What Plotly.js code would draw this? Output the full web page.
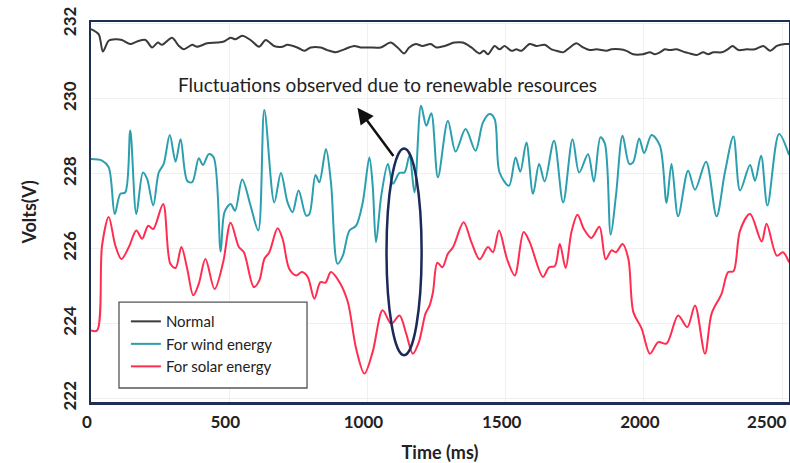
<!DOCTYPE html>
<html>
<head>
<meta charset="utf-8">
<script src="https://cdn.plot.ly/plotly-3.0.1.min.js"></script>
<style>html,body{margin:0;padding:0;background:#fff;}#chart{width:790px;height:463px;}</style>
</head>
<body>
<div id="chart"></div>
<script>
// Time (ms) and voltage (V) readings for each series
const normalTime = [0,28,43,64,88,112,142,167,197,221,242,257,293,318,336,366,384,420,457,481,505,523,547,577,608,632,662,692,710,746,771,795,831,855,885,916,952,976,1006,1048,1084,1109,1133,1151,1175,1199,1229,1249,1279,1315,1345,1376,1406,1421,1436,1460,1478,1496,1521,1539,1557,1587,1611,1641,1666,1684,1708,1732,1756,1780,1804,1829,1865,1883,1913,1937,1961,1997,2022,2040,2058,2076,2094,2118,2149,2167,2191,2215,2233,2251,2282,2303,2321,2342,2372,2402,2432,2457,2481,2511,2525];
const normalVolts = [231.86,231.72,231.26,231.55,231.59,231.57,231.46,231.53,231.57,231.37,231.50,231.44,231.63,231.41,231.32,231.44,231.39,231.48,231.50,231.53,231.63,231.59,231.68,231.57,231.39,231.57,231.41,231.39,231.44,231.37,231.28,231.37,231.37,231.30,231.24,231.32,231.41,231.37,231.37,231.37,231.50,231.37,231.21,231.37,231.46,231.41,231.46,231.37,231.41,231.50,231.50,231.37,231.21,231.28,231.19,231.41,231.32,231.41,231.28,231.32,231.28,231.46,231.41,231.44,231.32,231.28,231.24,231.37,231.48,231.37,231.30,231.32,231.28,231.32,231.32,231.28,231.19,231.19,231.24,231.19,231.24,231.32,231.30,231.32,231.24,231.21,231.17,231.24,231.19,231.24,231.24,231.32,231.41,231.30,231.32,231.32,231.41,231.28,231.41,231.46,231.46];

const windTime = [0,40,64,86,106,124,142,164,188,203,225,245,263,285,306,324,348,366,390,405,426,444,469,483,505,521,547,577,605,627,663,687,711,729,751,778,790,812,826,850,868,892,911,935,959,983,1007,1019,1031,1050,1074,1092,1116,1134,1152,1170,1194,1213,1231,1255,1291,1319,1355,1391,1418,1442,1460,1478,1512,1536,1553,1575,1599,1621,1641,1675,1708,1742,1766,1798,1819,1843,1859,1880,1899,1923,1947,1961,1983,2001,2028,2058,2082,2100,2124,2160,2185,2225,2263,2293,2324,2348,2384,2402,2424,2447,2489,2525];
const windVolts = [228.39,228.35,228.17,226.92,227.46,227.50,229.15,226.92,228.03,227.86,227.15,228.03,228.26,229.03,228.32,228.92,227.81,227.77,228.41,228.23,228.52,228.43,225.92,226.97,227.19,227.01,227.84,227.15,226.48,229.70,227.23,228.02,227.23,226.97,227.55,226.88,226.92,227.96,227.77,228.66,227.77,225.59,225.81,226.48,226.61,227.23,228.43,227.68,226.17,227.41,228.26,227.73,228.02,228.03,228.48,227.50,229.81,229.28,229.61,227.90,229.41,228.59,229.19,228.61,229.37,229.59,229.46,228.03,227.68,228.43,228.05,228.83,227.46,228.26,227.79,228.88,227.23,228.92,228.03,228.52,227.79,228.97,228.80,226.37,227.41,229.01,228.26,228.30,228.94,228.55,229.03,228.75,227.22,228.26,226.86,228.08,227.57,228.32,226.86,228.03,228.99,227.55,228.23,227.81,228.48,227.15,229.06,228.50];

const solarTime = [0,22,40,64,88,110,137,164,185,207,225,261,287,306,327,348,370,390,414,447,478,505,535,553,589,609,627,645,675,693,717,742,763,784,808,830,848,868,899,929,959,989,1019,1055,1086,1116,1140,1164,1186,1210,1225,1237,1253,1271,1291,1310,1348,1376,1406,1436,1454,1476,1505,1533,1565,1587,1635,1657,1678,1696,1717,1738,1760,1783,1810,1839,1862,1883,1899,1923,1944,1962,1992,2022,2052,2082,2124,2157,2185,2221,2245,2281,2305,2324,2348,2384,2426,2444,2481,2503,2525];
const solarVolts = [223.81,223.81,226.08,226.84,226.08,225.72,226.04,226.48,226.26,226.61,226.52,227.19,225.59,225.48,226.04,225.46,224.75,225.06,225.72,224.92,225.63,226.69,226.04,225.90,224.97,225.15,225.72,225.90,226.54,226.26,225.46,225.28,225.37,225.24,224.66,225.10,225.09,225.37,225.10,224.57,223.33,222.66,223.24,224.35,223.99,224.21,223.73,223.19,223.50,224.26,224.48,224.83,225.62,225.50,225.86,226.04,226.70,226.17,225.71,226.04,225.90,226.48,225.72,225.28,226.44,226.17,225.24,225.50,225.53,226.12,225.48,226.44,226.90,226.52,226.28,226.58,225.71,225.95,225.90,226.12,225.72,224.30,223.86,223.19,223.50,223.46,224.21,223.90,224.48,223.19,224.26,224.79,225.37,225.39,226.48,226.92,226.19,226.66,225.81,225.90,225.63];

const seriesNames = ['Normal', 'For wind energy', 'For solar energy'];
const yTicks = [222, 224, 226, 228, 230, 232];
const xTicks = [0, 500, 1000, 1500, 2000, 2500];
const noteText = 'Fluctuations observed due to renewable resources';

const FONT = 'Lato, "Open Sans", "Liberation Sans", sans-serif';
const lastX = xTicks[xTicks.length - 1];

const traces = [
  {x: normalTime, y: normalVolts, name: seriesNames[0], mode: 'lines',
   line: {color: '#3a3a3a', width: 2, shape: 'spline', smoothing: 0.8}},
  {x: windTime, y: windVolts, name: seriesNames[1], mode: 'lines',
   line: {color: '#2b9fae', width: 2, shape: 'spline', smoothing: 0.9}},
  {x: solarTime, y: solarVolts, name: seriesNames[2], mode: 'lines',
   line: {color: '#ff2d50', width: 2, shape: 'spline', smoothing: 0.9}}
];

const layout = {
  width: 790, height: 463,
  margin: {l: 91, r: 1, t: 22, b: 61},
  paper_bgcolor: '#ffffff', plot_bgcolor: '#ffffff',
  font: {family: FONT, color: '#222'},
  showlegend: true,
  legend: {
    x: 0.05, y: 0.255, xanchor: 'left', yanchor: 'top',
    bgcolor: 'rgba(0,0,0,0)', borderwidth: 0,
    font: {family: FONT, size: 15, color: '#222'},
    tracegroupgap: 0
  },
  xaxis: {
    range: [0, 2525], tickvals: xTicks,
    ticktext: xTicks.map(v => v === lastX ? '' : String(v)),
    showgrid: true, gridcolor: '#f0f0f0', gridwidth: 1,
    zeroline: false, showline: true, mirror: true,
    linecolor: '#1f2f52', linewidth: 2.5, ticks: '',
    tickfont: {family: FONT, size: 17, weight: 'bold', color: '#222'},
    ticklabelstandoff: 3, ticklabelshift: -4,
    title: {text: 'Time (ms)', font: {family: FONT, size: 18, weight: 'bold', color: '#222'}, standoff: 16}
  },
  yaxis: {
    range: [221.9, 232.05], tickvals: yTicks, ticktext: yTicks.map(String),
    tickangle: -90,
    showgrid: true, gridcolor: '#f0f0f0', gridwidth: 1,
    zeroline: false, showline: true, mirror: true,
    linecolor: '#1f2f52', linewidth: 2.5, ticks: '',
    tickfont: {family: FONT, size: 17, weight: 'bold', color: '#222'},
    ticklabelstandoff: 6,
    title: {text: 'Volts(V)', font: {family: FONT, size: 18, weight: 'bold', color: '#222'}, standoff: 18}
  },
  annotations: [
    {x: 1072, y: 230.37, xref: 'x', yref: 'y', text: noteText, showarrow: false,
     font: {family: FONT, size: 19, color: '#222'}},
    {x: 964, y: 229.76, xref: 'x', yref: 'y', ax: 1098, ay: 228.43, axref: 'x', ayref: 'y',
     text: '', showarrow: true, arrowhead: 2, arrowsize: 1.3, arrowwidth: 2.5, arrowcolor: '#111'},
    {x: 1, xref: 'paper', y: 0, yref: 'paper', xanchor: 'right', yanchor: 'top', yshift: -7,
     text: String(lastX), showarrow: false,
     font: {family: FONT, size: 17, weight: 'bold', color: '#222'}}
  ],
  shapes: [
    {type: 'circle', xref: 'x', yref: 'y', x0: 1069, x1: 1196, y0: 223.15, y1: 228.67,
     line: {color: '#1c2a5a', width: 2.5}},
    {type: 'rect', xref: 'paper', yref: 'paper', x0: 0.0401, x1: 0.3095, y0: 0.0368, y1: 0.263,
     line: {color: '#555', width: 1.3}, fillcolor: '#ffffff', layer: 'above'}
  ]
};

Plotly.newPlot('chart', traces, layout, {displayModeBar: false, staticPlot: true});
</script>
</body>
</html>
